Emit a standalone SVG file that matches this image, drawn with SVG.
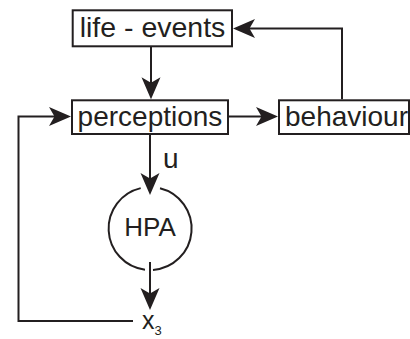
<svg xmlns="http://www.w3.org/2000/svg" width="410" height="339" viewBox="0 0 410 339">
<style>
.box{fill:#fff;stroke:#231f20;stroke-width:2}
.ln{fill:none;stroke:#231f20;stroke-width:2}
.t{font-family:"Liberation Sans",Arial,sans-serif;fill:#231f20}
</style>
<defs>
<marker id="ah" viewBox="-22 -10 22 20" refX="-12" refY="0" markerWidth="22" markerHeight="20" markerUnits="userSpaceOnUse" orient="auto">
<path d="M0,0 L-22,-9.5 L-16.5,0 L-22,9.5 Z" fill="#231f20"/>
</marker>
</defs>
<rect width="410" height="339" fill="#fff"/>
<g id="connectors">
<path class="ln" d="M151,47 V87.3" marker-end="url(#ah)"/>
<path class="ln" d="M229,116.5 H266" marker-end="url(#ah)"/>
<path class="ln" d="M342,99.3 V28.5 H245" marker-end="url(#ah)"/>
<path class="ln" d="M133,321 H18.5 V116.5 H59" marker-end="url(#ah)"/>
<path class="ln" d="M150,135 V183" marker-end="url(#ah)"/>
<path class="ln" d="M150,262 V298" marker-end="url(#ah)"/>
</g>
<g id="life-events">
<rect class="box" x="72.7" y="10.3" width="159.3" height="36"/>
<text class="t" x="152.5" y="37.3" font-size="28.5" text-anchor="middle">life - events</text>
</g>
<g id="perceptions">
<rect class="box" x="72" y="100.3" width="156" height="33.7"/>
<text class="t" x="150" y="125.5" font-size="28" text-anchor="middle">perceptions</text>
</g>
<g id="behaviour">
<rect class="box" x="279" y="100.3" width="130" height="33.7"/>
<text class="t" x="285" y="125.5" font-size="28">behaviour</text>
</g>
<g id="hpa">
<path class="ln" d="M160,188.2 A41.5,41.5 0 0 1 153,269.9"/>
<path class="ln" d="M145,269.7 A41.5,41.5 0 0 1 140.7,188.1"/>
<text class="t" x="150" y="236" font-size="26" text-anchor="middle">HPA</text>
</g>
<g id="u-label">
<text class="t" x="163" y="168" font-size="28">u</text>
</g>
<g id="x3">
<text class="t" x="142" y="329" font-size="25">x<tspan font-size="13" dy="5.5">3</tspan></text>
</g>
</svg>
